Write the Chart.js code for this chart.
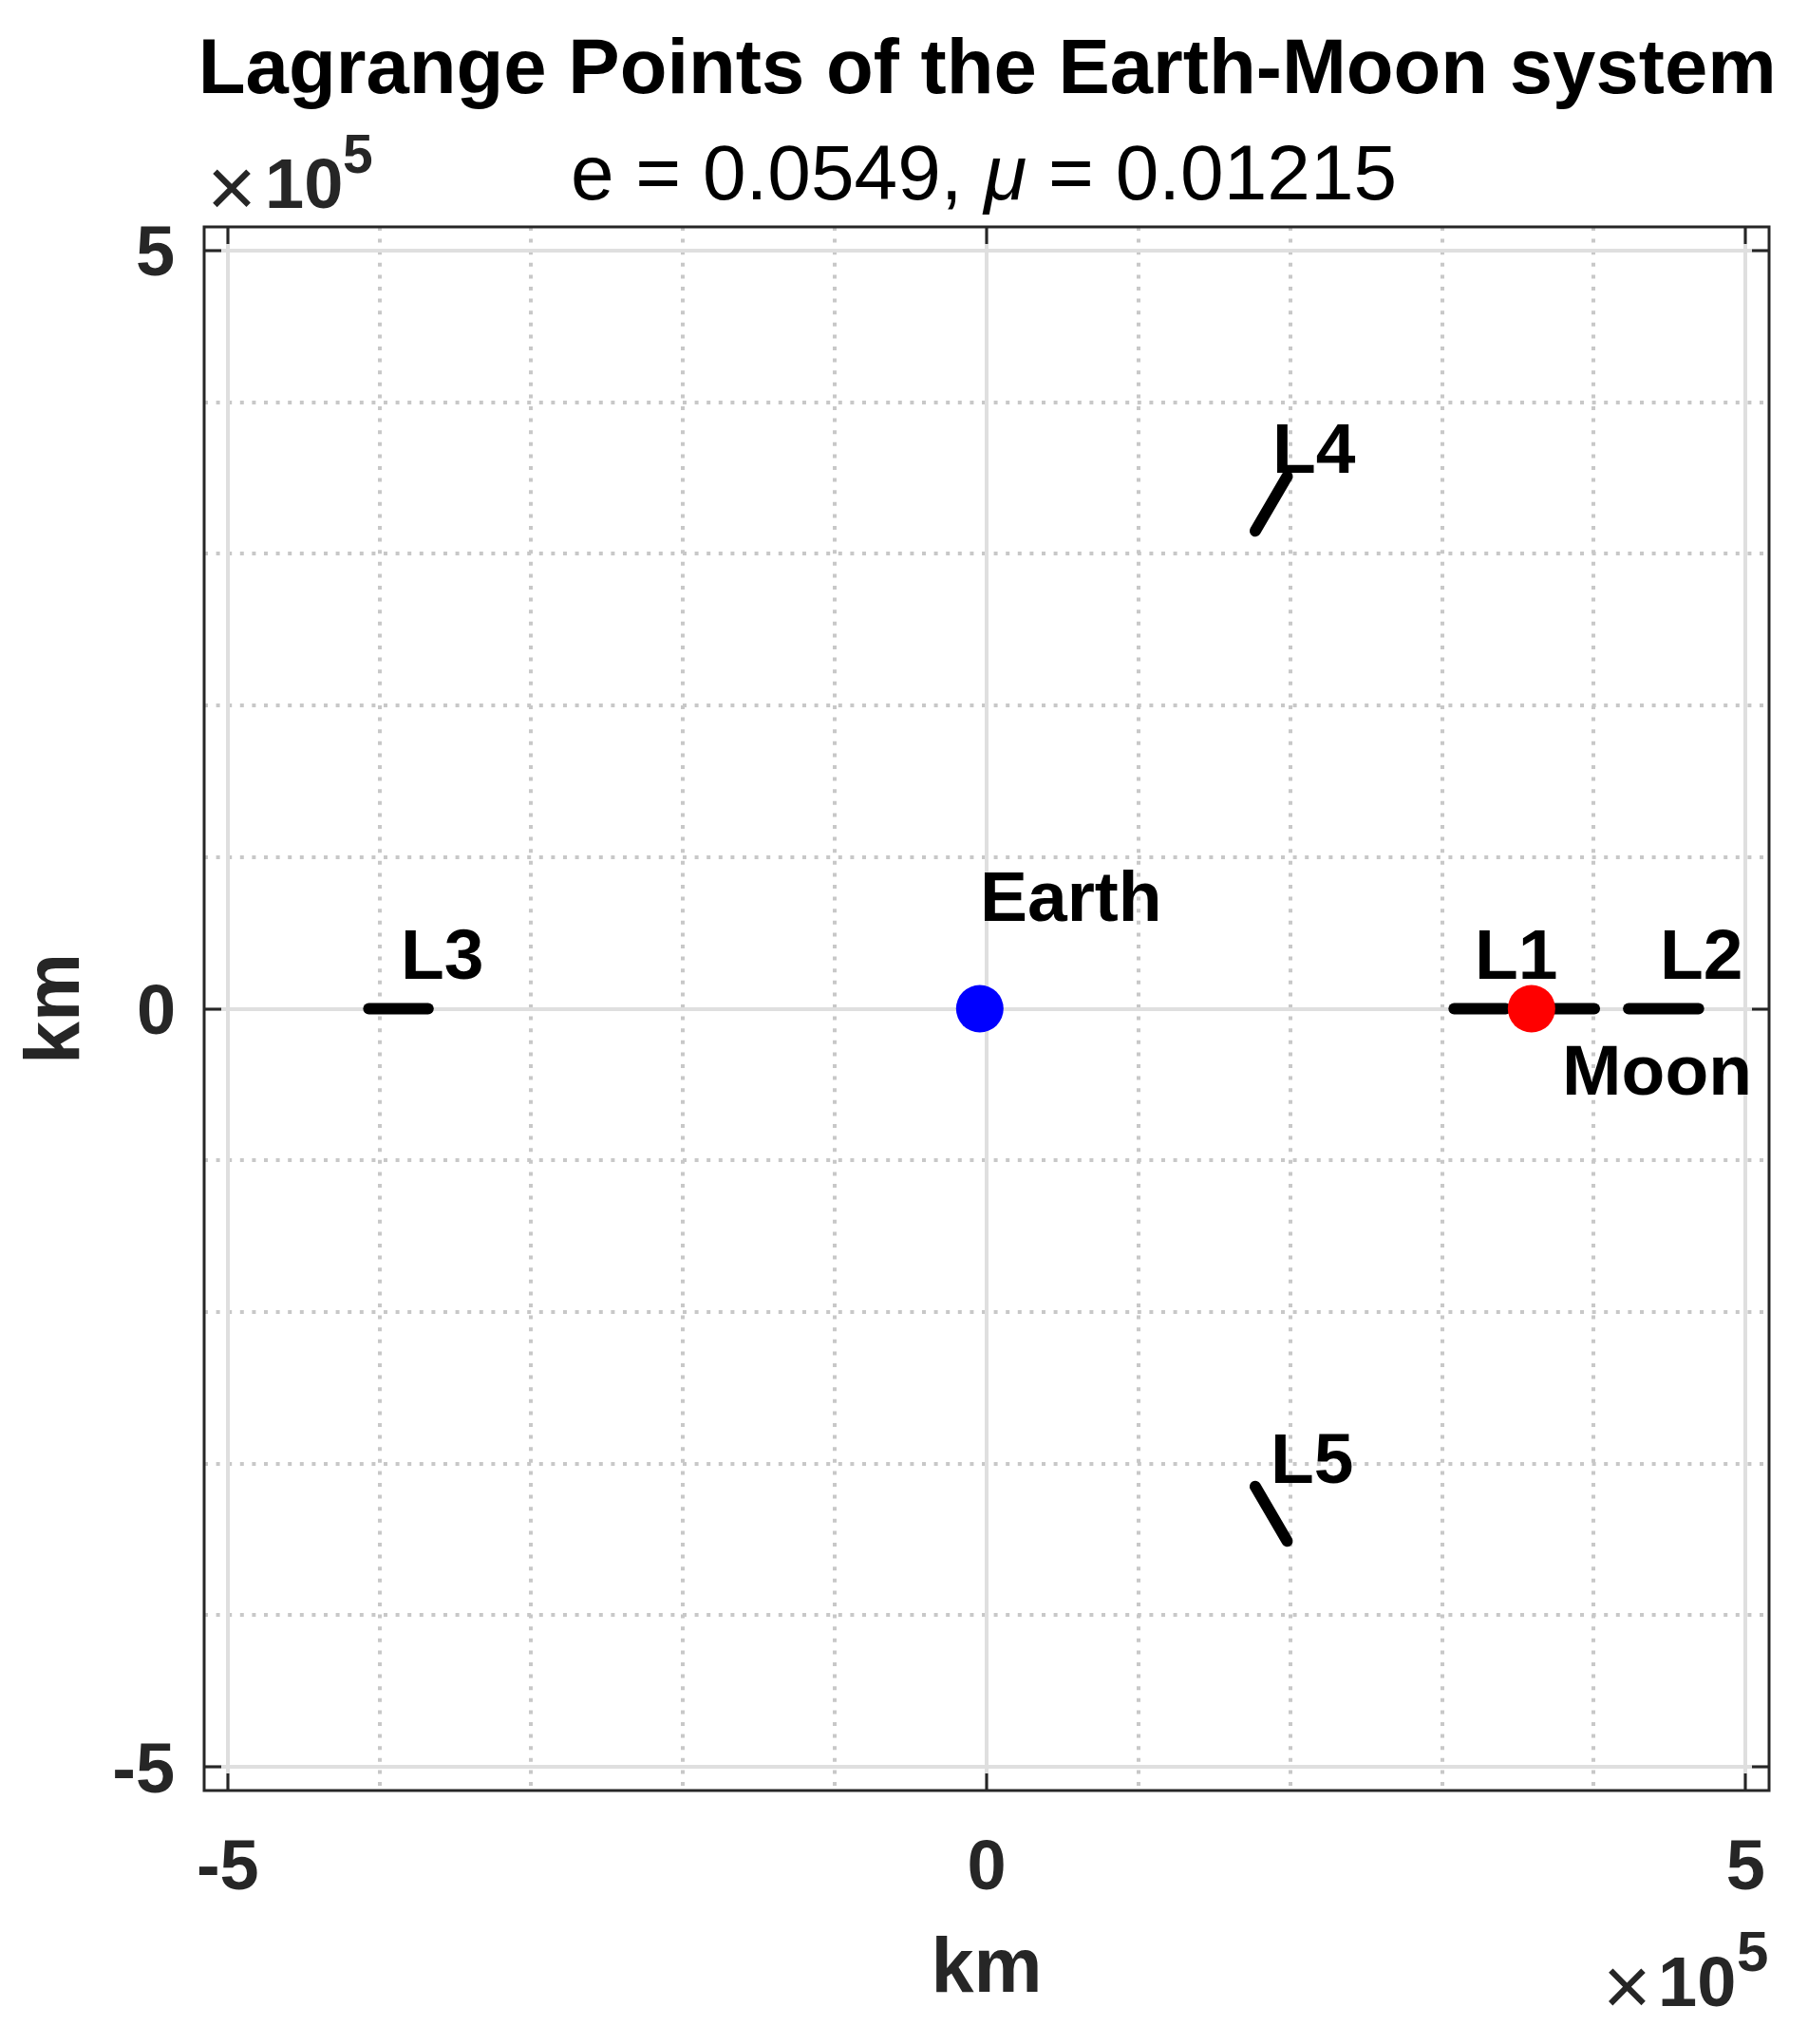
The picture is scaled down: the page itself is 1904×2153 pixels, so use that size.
<!DOCTYPE html>
<html>
<head>
<meta charset="utf-8">
<title>Lagrange Points of the Earth-Moon system</title>
<script src="https://cdn.jsdelivr.net/npm/chart.js@4.4.1/dist/chart.umd.min.js"></script>
<style>
  html, body { margin: 0; padding: 0; background: #fff; }
  canvas { display: block; }
</style>
</head>
<body>
<canvas id="lagrangeChart" width="1904" height="2153"></canvas>
<script>
// positions in km (rotating frame, perigee -> apogee)
var earthX = [-4500], earthY = [0];
var moonX = [359000], moonY = [0];
var moonPathX = [359000, 400400], moonPathY = [0, 0];
var l1X = [308000, 342000], l1Y = [0, 0];
var l2X = [423000, 469000], l2Y = [0, 0];
var l3X = [-407000, -368000], l3Y = [0, 0];
var l4X = [177000, 198000], l4Y = [315000, 351000];
var l5X = [177000, 198000], l5Y = [-315000, -351000];

// text labels, anchored in km
var labelText = ['Earth', 'Moon', 'L1', 'L2', 'L3', 'L4', 'L5'];
var labelX = [-1300, 382300, 324700, 446700, -382900, 191400, 190200];
var labelY = [57850, -56700, 19700, 19700, 19700, 353300, -312800];

// axes
var axisLimit = 515500;
var majorTicks = [-500000, 0, 500000];
var minorTicks = [-400000, -300000, -200000, -100000, 100000, 200000, 300000, 400000];
var tickLabels = ['-5', '0', '5'];

var FONT = '"Liberation Sans", Arial, Helvetica, sans-serif';
var AXIS_COLOR = '#262626';

function pts(xs, ys) {
    var out = [];
    for (var i = 0; i < xs.length; i++) out.push({ x: xs[i], y: ys[i] });
    return out;
}

// draw text positioned by its ink box
function inkText(ctx, str, font, x, y, ax, ay, color) {
    ctx.font = font;
    ctx.textAlign = 'left';
    ctx.textBaseline = 'alphabetic';
    var m = ctx.measureText(str);
    var w = m.actualBoundingBoxLeft + m.actualBoundingBoxRight;
    var left = ax === 'left' ? x : (ax === 'right' ? x - w : x - w / 2);
    var dy;
    if (ay === 'base') dy = y;
    else if (ay === 'top') dy = y + m.actualBoundingBoxAscent;
    else if (ay === 'bottom') dy = y - m.actualBoundingBoxDescent;
    else dy = y + (m.actualBoundingBoxAscent - m.actualBoundingBoxDescent) / 2;
    ctx.fillStyle = color;
    ctx.fillText(str, left + m.actualBoundingBoxLeft, dy);
}

function timesSign(ctx, left, bottom, inkWidth) {
    ctx.font = '100px ' + FONT;
    var m = ctx.measureText('\u00d7');
    var size = 100 * inkWidth / (m.actualBoundingBoxLeft + m.actualBoundingBoxRight);
    inkText(ctx, '\u00d7', size.toFixed(1) + 'px ' + FONT, left, bottom, 'left', 'bottom', AXIS_COLOR);
}

var lineStyle = {
    showLine: true,
    pointRadius: 0,
    pointHoverRadius: 0,
    borderColor: '#000000',
    borderWidth: 12,
    borderCapStyle: 'round',
    order: 2
};

function lineSet(label, xs, ys) {
    return Object.assign({ label: label, data: pts(xs, ys) }, lineStyle);
}

var framePlugin = {
    id: 'matlabFrame',
    beforeDatasetsDraw: function (chart) {
        var ctx = chart.ctx, a = chart.chartArea;
        var xs = chart.scales.x, ys = chart.scales.y;
        ctx.save();
        // minor dotted grid
        ctx.strokeStyle = '#c8c8c8';
        ctx.lineWidth = 4;
        ctx.setLineDash([4, 8.6]);
        minorTicks.forEach(function (v) {
            var px = Math.round(xs.getPixelForValue(v));
            ctx.beginPath(); ctx.moveTo(px, a.top); ctx.lineTo(px, a.bottom); ctx.stroke();
            var py = Math.round(ys.getPixelForValue(v));
            ctx.beginPath(); ctx.moveTo(a.left, py); ctx.lineTo(a.right, py); ctx.stroke();
        });
        // major solid grid
        ctx.setLineDash([]);
        ctx.strokeStyle = '#dfdfdf';
        majorTicks.forEach(function (v) {
            var px = Math.round(xs.getPixelForValue(v));
            ctx.beginPath(); ctx.moveTo(px, a.top); ctx.lineTo(px, a.bottom); ctx.stroke();
            var py = Math.round(ys.getPixelForValue(v));
            ctx.beginPath(); ctx.moveTo(a.left, py); ctx.lineTo(a.right, py); ctx.stroke();
        });
        ctx.restore();
    },
    afterDatasetsDraw: function (chart) {
        var ctx = chart.ctx, a = chart.chartArea;
        var xs = chart.scales.x, ys = chart.scales.y;
        ctx.save();

        // annotations
        for (var i = 0; i < labelText.length; i++) {
            inkText(ctx, labelText[i], 'bold 75px ' + FONT,
                xs.getPixelForValue(labelX[i]), ys.getPixelForValue(labelY[i]), 'left', 'base', '#000000');
        }

        // box and ticks
        ctx.strokeStyle = AXIS_COLOR;
        ctx.lineWidth = 3;
        ctx.strokeRect(a.left, a.top, a.right - a.left, a.bottom - a.top);
        var tl = 18;
        majorTicks.forEach(function (v) {
            var px = Math.round(xs.getPixelForValue(v));
            ctx.beginPath();
            ctx.moveTo(px, a.top); ctx.lineTo(px, a.top + tl);
            ctx.moveTo(px, a.bottom); ctx.lineTo(px, a.bottom - tl);
            ctx.stroke();
            var py = Math.round(ys.getPixelForValue(v));
            ctx.beginPath();
            ctx.moveTo(a.left, py); ctx.lineTo(a.left + tl, py);
            ctx.moveTo(a.right, py); ctx.lineTo(a.right - tl, py);
            ctx.stroke();
        });

        // tick labels
        var tickFont = 'bold 74px ' + FONT;
        majorTicks.forEach(function (v, k) {
            ctx.font = tickFont;
            ctx.textAlign = 'center';
            ctx.textBaseline = 'alphabetic';
            ctx.fillStyle = AXIS_COLOR;
            ctx.fillText(tickLabels[k], xs.getPixelForValue(v), a.bottom + 104);
            inkText(ctx, tickLabels[k], tickFont, a.left - 32, ys.getPixelForValue(v) + 1, 'right', 'mid', AXIS_COLOR);
        });

        // exponent labels
        timesSign(ctx, 224, 219, 41);
        inkText(ctx, '10', 'bold 74px ' + FONT, 283, 219, 'left', 'base', AXIS_COLOR);
        inkText(ctx, '5', 'bold 57px ' + FONT, 362, 183, 'left', 'bottom', AXIS_COLOR);
        timesSign(ctx, 1694, 2113, 40);
        inkText(ctx, '10', 'bold 74px ' + FONT, 1750, 2113, 'left', 'base', AXIS_COLOR);
        inkText(ctx, '5', 'bold 60px ' + FONT, 1830, 2077, 'left', 'bottom', AXIS_COLOR);

        // axis labels
        inkText(ctx, 'km', 'bold 81px ' + FONT, (a.left + a.right) / 2, 2098, 'center', 'base', AXIS_COLOR);
        ctx.save();
        ctx.translate(83, (a.top + a.bottom) / 2);
        ctx.rotate(-Math.PI / 2);
        inkText(ctx, 'km', 'bold 81px ' + FONT, 0, 0, 'center', 'base', AXIS_COLOR);
        ctx.restore();

        // title and subtitle
        var cx = (a.left + a.right) / 2;
        inkText(ctx, 'Lagrange Points of the Earth-Moon system', 'bold 81.5px ' + FONT, cx + 1, 98, 'center', 'base', '#000000');
        var parts = [['e = 0.0549, ', '82px '], ['\u03bc', 'italic 82px '], [' = 0.01215', '82px ']];
        var total = 0;
        parts.forEach(function (p) { ctx.font = p[1] + FONT; total += ctx.measureText(p[0]).width; });
        var x = cx - 3 - total / 2;
        ctx.textAlign = 'left';
        ctx.textBaseline = 'alphabetic';
        ctx.fillStyle = '#000000';
        parts.forEach(function (p) {
            ctx.font = p[1] + FONT;
            ctx.fillText(p[0], x, 210);
            x += ctx.measureText(p[0]).width;
        });
        ctx.restore();
    }
};

function createLagrangeChart() {
    var ctx = document.getElementById('lagrangeChart').getContext('2d');
    return new Chart(ctx, {
        type: 'scatter',
        data: {
            datasets: [
                { label: 'Earth', data: pts(earthX, earthY), pointRadius: 25, pointHoverRadius: 25,
                  backgroundColor: '#0000ff', borderWidth: 0, order: 0 },
                { label: 'Moon', data: pts(moonX, moonY), pointRadius: 25, pointHoverRadius: 25,
                  backgroundColor: '#ff0000', borderWidth: 0, order: 0 },
                lineSet('Moon path', moonPathX, moonPathY),
                lineSet('L1', l1X, l1Y),
                lineSet('L2', l2X, l2Y),
                lineSet('L3', l3X, l3Y),
                lineSet('L4', l4X, l4Y),
                lineSet('L5', l5X, l5Y)
            ]
        },
        options: {
            responsive: false,
            animation: false,
            devicePixelRatio: 1,
            layout: { padding: { left: 215, top: 239, right: 41, bottom: 267 } },
            plugins: {
                legend: { display: false },
                tooltip: { enabled: false },
                title: { display: false }
            },
            scales: {
                x: { type: 'linear', min: -axisLimit, max: axisLimit, display: false },
                y: { type: 'linear', min: -axisLimit, max: axisLimit, display: false }
            }
        },
        plugins: [framePlugin]
    });
}

createLagrangeChart();
</script>
</body>
</html>
